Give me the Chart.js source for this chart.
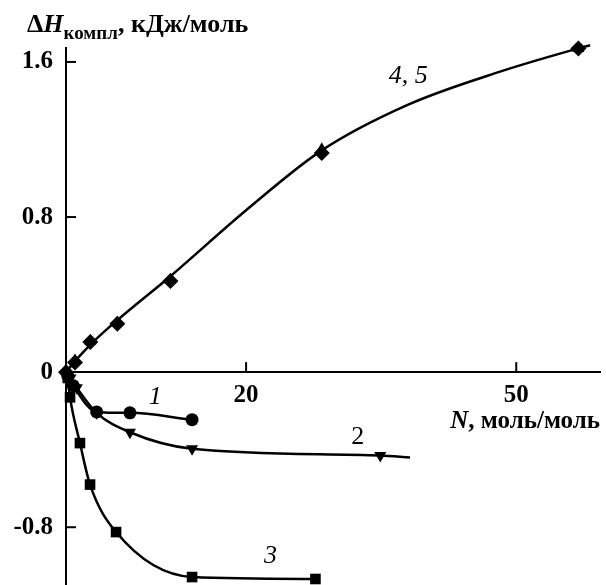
<!DOCTYPE html>
<html>
<head>
<meta charset="utf-8">
<script src="https://cdn.jsdelivr.net/npm/chart.js@4"></script>
<style>
  html, body { margin: 0; padding: 0; background: #fff; overflow: hidden; }
  #wrap { width: 606px; height: 585px; position: relative; }
  canvas { display: block; }
</style>
</head>
<body>
<div id="wrap"><canvas id="myChart"></canvas></div>
<script>
// curve 1 (circles)
const n1 = [0.2, 0.8, 3.4, 7.1, 14.0];
const h1 = [-0.02, -0.07, -0.205, -0.21, -0.245];
// curve 2 (triangles down), last point only carries the line
const n2 = [0.5, 1.2, 3.4, 7.1, 14.0, 34.9, 38.2];
const h2 = [-0.03, -0.08, -0.21, -0.31, -0.395, -0.43, -0.44];
// curve 3 (squares)
const n3 = [0.2, 0.45, 1.55, 2.67, 5.56, 14.0, 27.7];
const h3 = [-0.03, -0.13, -0.366, -0.58, -0.825, -1.057, -1.067];
// curves 4 and 5 (triangles up / diamonds)
const n45 = [0, 1.0, 2.7, 5.7, 11.6, 28.4, 56.9];
const h4 = [0.01, 0.06, 0.16, 0.255, 0.475, 1.15, 1.67];
const h5 = [0, 0.05, 0.155, 0.25, 0.47, 1.13, 1.67];
// smooth curve drawn through 4, 5
const fitN45 = [0, 1.0, 3.0, 5.7, 11.6, 20.0, 28.4, 38.0, 48.2, 56.9, 58.2];
const fitH45 = [0, 0.057, 0.155, 0.268, 0.495, 0.835, 1.144, 1.38, 1.55, 1.67, 1.686];

const xTicks = [20, 50];
const yTicks = [-0.8, 0, 0.8, 1.6];
const curveLabels = [
  { text: '1', x: 9.9, y: -0.13, italic: true },
  { text: '2', x: 32.4, y: -0.335, italic: false },
  { text: '3', x: 22.7, y: -0.95, italic: true },
  { text: '4, 5', x: 38.0, y: 1.525, italic: true }
];

const FONT = '"Liberation Serif", "Times New Roman", serif';

function pts(xs, ys) {
  return xs.map((x, i) => ({ x, y: ys[i] }));
}

const baseSet = {
  borderColor: '#000',
  backgroundColor: '#000',
  borderWidth: 2.5,
  showLine: true,
  cubicInterpolationMode: 'monotone',
  pointBorderWidth: 0,
  clip: false
};

const annotate = {
  id: 'annotate',
  afterDraw(chart) {
    const ctx = chart.ctx;
    const xs = chart.scales.x, ys = chart.scales.y;
    const x0 = xs.getPixelForValue(0), y0 = ys.getPixelForValue(0);
    ctx.save();
    ctx.strokeStyle = '#000';
    ctx.lineWidth = 2;
    // inward tick marks
    xTicks.forEach(v => {
      const px = xs.getPixelForValue(v);
      ctx.beginPath(); ctx.moveTo(px, y0); ctx.lineTo(px, y0 - 10); ctx.stroke();
    });
    yTicks.forEach(v => {
      if (v === 0) return;
      const py = ys.getPixelForValue(v);
      ctx.beginPath(); ctx.moveTo(x0, py); ctx.lineTo(x0 + 10, py); ctx.stroke();
    });
    // curve labels
    ctx.fillStyle = '#000';
    ctx.textAlign = 'center';
    ctx.textBaseline = 'middle';
    curveLabels.forEach(l => {
      ctx.font = (l.italic ? 'italic ' : '') + '26px ' + FONT;
      ctx.fillText(l.text, xs.getPixelForValue(l.x), ys.getPixelForValue(l.y));
    });
    // x axis title
    ctx.textAlign = 'right';
    ctx.textBaseline = 'alphabetic';
    const rest = ', моль/моль';
    ctx.font = 'bold 25px ' + FONT;
    const wRest = ctx.measureText(rest).width;
    ctx.fillText(rest, 600, 428);
    ctx.font = 'italic bold 25px ' + FONT;
    ctx.fillText('N', 600 - wRest, 428);
    // y axis title
    ctx.textAlign = 'left';
    let x = 27;
    ctx.font = 'bold 26px ' + FONT;
    ctx.fillText('Δ', x, 32); x += ctx.measureText('Δ').width;
    ctx.font = 'italic bold 26px ' + FONT;
    ctx.fillText('H', x, 32); x += ctx.measureText('H').width;
    ctx.font = 'bold 19px ' + FONT;
    ctx.fillText('компл', x, 39); x += ctx.measureText('компл').width;
    ctx.font = 'bold 26px ' + FONT;
    ctx.fillText(', кДж/моль', x, 32);
    ctx.restore();
  }
};

new Chart(document.getElementById('myChart'), {
  type: 'scatter',
  data: {
    datasets: [
      Object.assign({}, baseSet, { data: pts(n1, h1), pointStyle: 'circle', pointRadius: 6.5 }),
      Object.assign({}, baseSet, { data: pts(n2, h2), pointStyle: 'triangle', pointRotation: 180,
        pointRadius: n2.map((v, i) => i === n2.length - 1 ? 0 : 7) }),
      Object.assign({}, baseSet, { data: pts(n3, h3), pointStyle: 'rect', pointRadius: 7.5 }),
      Object.assign({}, baseSet, { data: pts(fitN45, fitH45), pointRadius: 0 }),
      Object.assign({}, baseSet, { data: pts(n45, h4), pointStyle: 'triangle', pointRadius: 7, showLine: false }),
      Object.assign({}, baseSet, { data: pts(n45, h5), pointStyle: 'rectRot', pointRadius: 8, showLine: false })
    ]
  },
  options: {
    responsive: true,
    maintainAspectRatio: false,
    animation: false,
    events: [],
    layout: { autoPadding: false, padding: { top: 48, right: 6, bottom: 0, left: 0 } },
    plugins: { legend: { display: false }, tooltip: { enabled: false } },
    scales: {
      x: {
        type: 'linear',
        position: { y: 0 },
        min: 0,
        max: 59.3,
        grid: { display: false, drawTicks: false },
        border: { display: true, color: '#000', width: 2 },
        afterBuildTicks: s => { s.ticks = xTicks.map(v => ({ value: v })); },
        afterFit: s => { s.paddingLeft = 0; s.paddingRight = 0; s.height = 0; },
        ticks: {
          color: '#000',
          padding: 8,
          maxRotation: 0,
          font: { family: FONT, size: 25, weight: 'bold' },
          callback: v => String(v)
        }
      },
      y: {
        type: 'linear',
        position: 'left',
        min: -1.098,
        max: 1.672,
        grid: { display: false, drawTicks: false },
        border: { display: true, color: '#000', width: 2 },
        afterBuildTicks: s => { s.ticks = yTicks.map(v => ({ value: v })); },
        afterFit: s => { s.width = 66; s.paddingTop = 0; s.paddingBottom = 0; },
        ticks: {
          color: '#000',
          padding: 13,
          font: { family: FONT, size: 25, weight: 'bold' },
          callback: v => String(v)
        }
      }
    }
  },
  plugins: [annotate]
});
</script>
</body>
</html>
